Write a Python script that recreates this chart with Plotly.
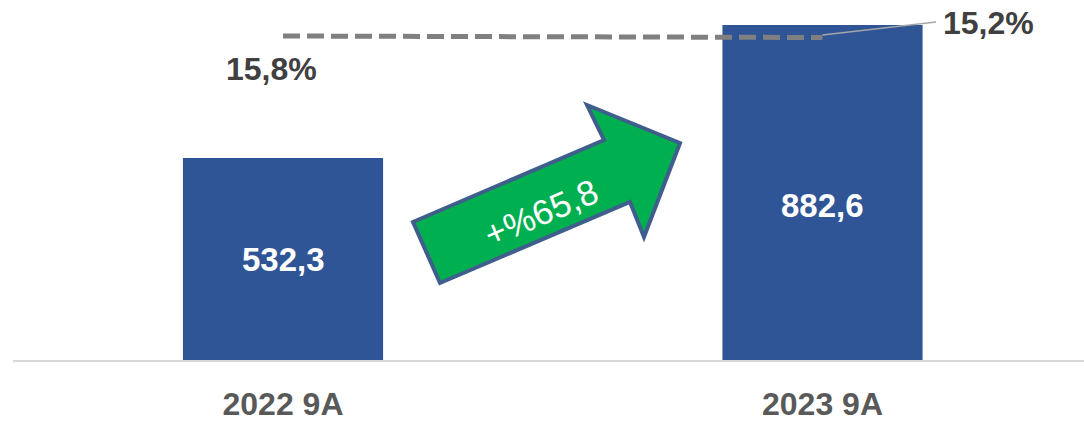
import plotly.graph_objects as go

categories = ["2022 9A", "2023 9A"]
values = [532.3, 882.6]
value_labels = ["532,3", "882,6"]
margins = [15.8, 15.2]
margin_labels = ["15,8%", "15,2%"]
growth_label = "+%65,8"

x = [0, 1]
PX = 539.5      # px per x unit
PY = 0.3795     # px per value unit
def dx(px):
    return (px - 283) / PX
def dy(py):
    return (360 - py) / PY

fig = go.Figure()
fig.add_trace(go.Bar(x=x, y=values, width=0.371, marker=dict(color="#2F5597", line=dict(width=0)),
                     hoverinfo="skip"))
fig.add_trace(go.Scatter(x=x, y=margins, yaxis="y2", mode="lines",
                         line=dict(color="#808080", width=5, dash="17px,7px"), hoverinfo="skip"))

# arrow (decoration), vertices estimated in pixel space
arrow_px = [(440, 283), (413, 222), (604, 140), (587, 105), (680, 143), (644, 237), (630, 202)]
path = "M " + " L ".join(f"{dx(a):.4f},{dy(b):.2f}" for a, b in arrow_px) + " Z"
fig.add_shape(type="path", path=path, xref="x", yref="y", fillcolor="#00B050",
              line=dict(color="#3F5E8C", width=4), layer="above")

annotations = []
label_frac = [0.5, 0.461]
for xi, v, t, f in zip(x, values, value_labels, label_frac):
    annotations.append(dict(x=xi, y=v * f, text=f"<b>{t}</b>", showarrow=False,
                            font=dict(color="white", size=33, family="Liberation Sans")))
annotations.append(dict(x=dx(271), y=dy(69), text=f"<b>{margin_labels[0]}</b>", showarrow=False,
                        font=dict(color="#404040", size=32, family="Liberation Sans")))
annotations.append(dict(x=dx(988), y=dy(23), text=f"<b>{margin_labels[1]}</b>", showarrow=False,
                        font=dict(color="#404040", size=32, family="Liberation Sans")))
annotations.append(dict(x=dx(541), y=dy(212), text=growth_label, showarrow=False, textangle=-23,
                        font=dict(color="white", size=35, family="Liberation Sans")))
fig.update_layout(annotations=annotations)

# leader line for right label
fig.add_shape(type="line", x0=1, y0=dy(35), x1=dx(936), y1=dy(22), xref="x", yref="y",
              line=dict(color="#A6A6A6", width=1.5))

fig.update_layout(
    width=1084, height=424,
    margin=dict(l=13, r=0, t=0, b=64, autoexpand=False),
    paper_bgcolor="white", plot_bgcolor="white",
    showlegend=False,
    xaxis=dict(range=[-(283 - 13) / PX, 1 + (1084 - 822.5) / PX], tickvals=x, ticktext=categories,
               showgrid=False, zeroline=False, showline=True, linecolor="#D9D9D9", linewidth=2,
               ticks="", ticklabelstandoff=15, automargin=False,
               tickfont=dict(color="#595959", size=32, family="Liberation Sans", weight="bold")),
    yaxis=dict(range=[0, 360 / PY], visible=False, showgrid=False, zeroline=False),
    yaxis2=dict(range=[30.2 - 360 * 0.4, 30.2], overlaying="y", visible=False, showgrid=False, zeroline=False),
)

fig.write_html("out.html")
